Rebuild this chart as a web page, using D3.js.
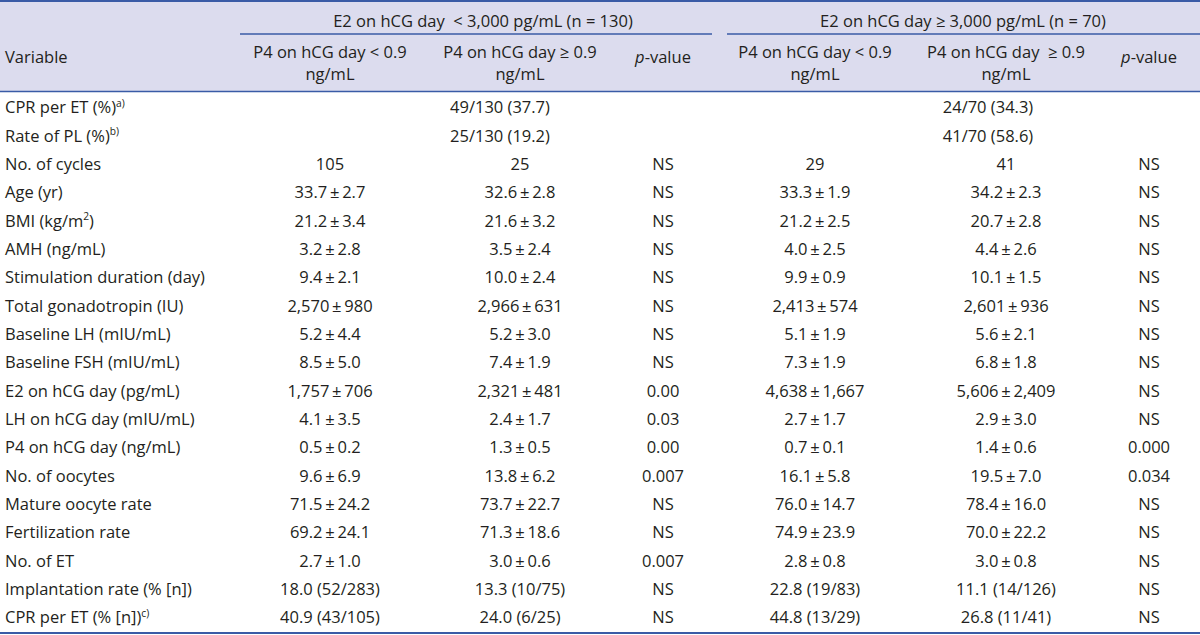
<!DOCTYPE html>
<html>
<meta charset="utf-8" />
<script src="https://d3js.org/d3.v7.min.js"></script>
<style>
  body { margin: 0; background: #fff; }
  svg text { font-family: "Open Sans", "Noto Sans", sans-serif; fill: #231f20; }
</style>
<body>
<svg id="tbl" width="1200" height="635"></svg>
<script>
// row labels, "^...^" marks a superscript
const variables = [
  "CPR per ET (%)^a)^", "Rate of PL (%)^b)^", "No. of cycles", "Age (yr)",
  "BMI (kg/m^2^)", "AMH (ng/mL)", "Stimulation duration (day)", "Total gonadotropin (IU)",
  "Baseline LH (mIU/mL)", "Baseline FSH (mIU/mL)", "E2 on hCG day (pg/mL)",
  "LH on hCG day (mIU/mL)", "P4 on hCG day (ng/mL)", "No. of oocytes",
  "Mature oocyte rate", "Fertilization rate", "No. of ET",
  "Implantation rate (% [n])", "CPR per ET (% [n])^c)^"
];

// values spanning each E2 group (first two rows)
const spanLowE2 = ["49/130 (37.7)", "25/130 (19.2)"];
const spanHighE2 = ["24/70 (34.3)", "41/70 (58.6)"];

// E2 < 3,000 group
const lowE2LowP4 = ["105", "33.7 ± 2.7", "21.2 ± 3.4", "3.2 ± 2.8", "9.4 ± 2.1", "2,570 ± 980",
  "5.2 ± 4.4", "8.5 ± 5.0", "1,757 ± 706", "4.1 ± 3.5", "0.5 ± 0.2", "9.6 ± 6.9",
  "71.5 ± 24.2", "69.2 ± 24.1", "2.7 ± 1.0", "18.0 (52/283)", "40.9 (43/105)"];
const lowE2HighP4 = ["25", "32.6 ± 2.8", "21.6 ± 3.2", "3.5 ± 2.4", "10.0 ± 2.4", "2,966 ± 631",
  "5.2 ± 3.0", "7.4 ± 1.9", "2,321 ± 481", "2.4 ± 1.7", "1.3 ± 0.5", "13.8 ± 6.2",
  "73.7 ± 22.7", "71.3 ± 18.6", "3.0 ± 0.6", "13.3 (10/75)", "24.0 (6/25)"];
const lowE2P = ["NS", "NS", "NS", "NS", "NS", "NS", "NS", "NS", "0.00", "0.03", "0.00", "0.007",
  "NS", "NS", "0.007", "NS", "NS"];

// E2 >= 3,000 group
const highE2LowP4 = ["29", "33.3 ± 1.9", "21.2 ± 2.5", "4.0 ± 2.5", "9.9 ± 0.9", "2,413 ± 574",
  "5.1 ± 1.9", "7.3 ± 1.9", "4,638 ± 1,667", "2.7 ± 1.7", "0.7 ± 0.1", "16.1 ± 5.8",
  "76.0 ± 14.7", "74.9 ± 23.9", "2.8 ± 0.8", "22.8 (19/83)", "44.8 (13/29)"];
const highE2HighP4 = ["41", "34.2 ± 2.3", "20.7 ± 2.8", "4.4 ± 2.6", "10.1 ± 1.5", "2,601 ± 936",
  "5.6 ± 2.1", "6.8 ± 1.8", "5,606 ± 2,409", "2.9 ± 3.0", "1.4 ± 0.6", "19.5 ± 7.0",
  "78.4 ± 16.0", "70.0 ± 22.2", "3.0 ± 0.8", "11.1 (14/126)", "26.8 (11/41)"];
const highE2P = ["NS", "NS", "NS", "NS", "NS", "NS", "NS", "NS", "NS", "NS", "0.000", "0.034",
  "NS", "NS", "NS", "NS", "NS"];

const groupLabels = ["E2 on hCG day  < 3,000 pg/mL (n = 130)", "E2 on hCG day ≥ 3,000 pg/mL (n = 70)"];
const subLabels = [
  ["P4 on hCG day < 0.9", "ng/mL"], ["P4 on hCG day ≥ 0.9", "ng/mL"], ["p-value"],
  ["P4 on hCG day < 0.9", "ng/mL"], ["P4 on hCG day  ≥ 0.9", "ng/mL"], ["p-value"]
];

const W = 1200, H = 635;
const lineColor = "#3a5ba6";
const headFill = "#dcdcee";
const fs = 16.5;
const mid = fs * 0.35; // baseline offset from row centre

const svg = d3.select("#tbl");

const colKeys = ["lowLow", "lowHigh", "lowP", "highLow", "highHigh", "highP"];
const x = d3.scaleOrdinal().domain(colKeys).range([330, 520, 663, 815, 1006, 1149]);
const xGroup = d3.scaleOrdinal().domain(["low", "high"]).range([[240, 712], [727, 1200]]);
const y = d3.scalePoint().domain(variables).range([107.5, 617.5]);

// header band
svg.append("rect").attr("x", 0).attr("y", 0).attr("width", W).attr("height", 91)
  .attr("fill", headFill);
svg.append("line").attr("x1", 0).attr("x2", W).attr("y1", 1).attr("y2", 1)
  .attr("stroke", lineColor).attr("stroke-width", 2);
svg.append("line").attr("x1", 0).attr("x2", W).attr("y1", 91.5).attr("y2", 91.5)
  .attr("stroke", lineColor).attr("stroke-width", 1.5);
svg.append("line").attr("x1", 0).attr("x2", W).attr("y1", 633).attr("y2", 633)
  .attr("stroke", lineColor).attr("stroke-width", 2);

["low", "high"].forEach((g, i) => {
  const [a, b] = xGroup(g);
  svg.append("line").attr("x1", a).attr("x2", b).attr("y1", 34).attr("y2", 34)
    .attr("stroke", lineColor).attr("stroke-width", 1.5);
  svg.append("text").attr("x", i === 0 ? 483 : 963).attr("y", 27)
    .attr("text-anchor", "middle").attr("font-size", fs).attr("xml:space", "preserve")
    .text(groupLabels[i]);
});

svg.append("text").attr("x", 5).attr("y", 63).attr("font-size", fs).text("Variable");

colKeys.forEach((k, i) => {
  const lab = subLabels[i];
  if (lab.length === 1) {
    const t = svg.append("text").attr("x", x(k)).attr("y", 63)
      .attr("text-anchor", "middle").attr("font-size", fs);
    t.append("tspan").attr("font-style", "italic").text("p");
    t.append("tspan").text("-value");
  } else {
    lab.forEach((l, j) => {
      svg.append("text").attr("x", x(k)).attr("y", 58 + j * 22)
        .attr("text-anchor", "middle").attr("font-size", fs).attr("xml:space", "preserve")
        .text(l);
    });
  }
});

// row labels
const supRaise = fs * 0.38;
variables.forEach(v => {
  const t = svg.append("text").attr("x", 5).attr("y", y(v) + mid).attr("font-size", fs);
  let back = 0;
  v.split("^").forEach((part, j) => {
    if (!part) return;
    if (j % 2 === 1) {
      t.append("tspan").attr("font-size", fs * 0.62).attr("dy", -supRaise).text(part);
      back = supRaise;
    } else {
      const s = t.append("tspan").text(part);
      if (back) s.attr("dy", back);
      back = 0;
    }
  });
});

// spanning rows
const spanRows = variables.slice(0, 2);
[[spanLowE2, 500], [spanHighE2, 988]].forEach(([vals, cx]) => {
  svg.append("g").selectAll("text").data(vals).join("text")
    .attr("x", cx).attr("y", (d, i) => y(spanRows[i]) + mid)
    .attr("text-anchor", "middle").attr("font-size", fs).text(d => d);
});

// body cells
const bodyRows = variables.slice(2);
const cols = [lowE2LowP4, lowE2HighP4, lowE2P, highE2LowP4, highE2HighP4, highE2P];
cols.forEach((vals, ci) => {
  svg.append("g").selectAll("text").data(vals).join("text")
    .attr("x", x(colKeys[ci])).attr("y", (d, i) => y(bodyRows[i]) + mid)
    .attr("text-anchor", "middle").attr("font-size", fs)
    .text(d => d.replace(" ± ", "\u2009±\u2009"));
});
</script>
</body>
</html>
